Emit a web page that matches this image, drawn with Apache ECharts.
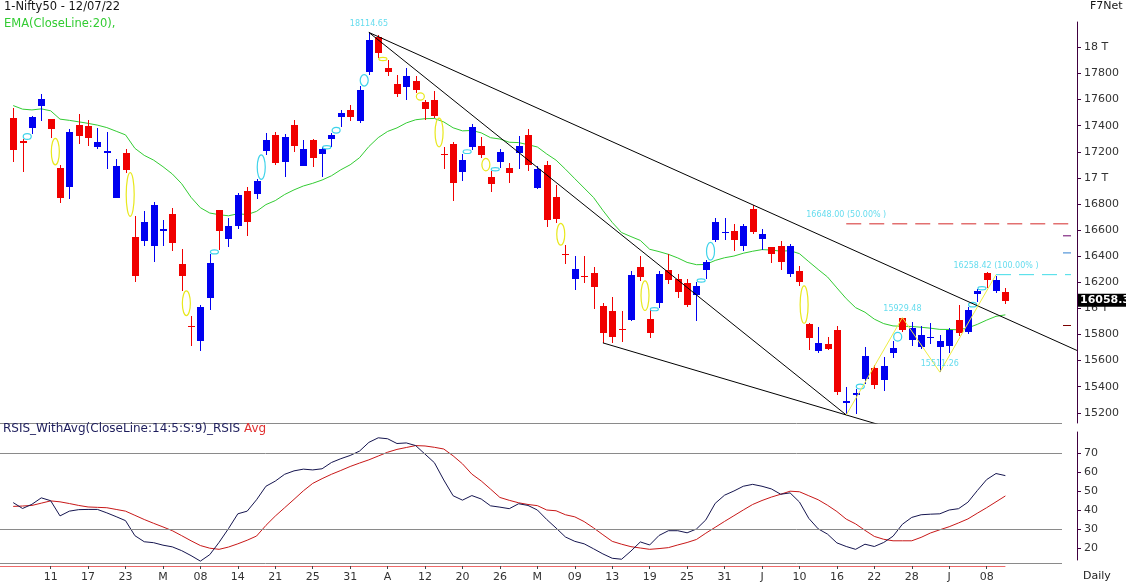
<!DOCTYPE html>
<html><head><meta charset="utf-8">
<script src="https://cdn.jsdelivr.net/npm/echarts@6/dist/echarts.min.js"></script>
<style>html,body{margin:0;padding:0;background:#fff;}#c{width:1126px;height:587px;}</style>
</head><body><div id="c"></div>
<script>
// ---------------- DATA ----------------
const dates = [
 '2022-02-07','2022-02-08','2022-02-09','2022-02-10','2022-02-11','2022-02-14','2022-02-15','2022-02-16','2022-02-17','2022-02-18',
 '2022-02-21','2022-02-22','2022-02-23','2022-02-24','2022-02-25','2022-02-28','2022-03-02','2022-03-03','2022-03-04','2022-03-07',
 '2022-03-08','2022-03-09','2022-03-10','2022-03-11','2022-03-14','2022-03-15','2022-03-16','2022-03-17','2022-03-21','2022-03-22',
 '2022-03-23','2022-03-24','2022-03-25','2022-03-28','2022-03-29','2022-03-30','2022-03-31','2022-04-01','2022-04-04','2022-04-05',
 '2022-04-06','2022-04-07','2022-04-08','2022-04-11','2022-04-12','2022-04-13','2022-04-18','2022-04-19','2022-04-20','2022-04-21',
 '2022-04-22','2022-04-25','2022-04-26','2022-04-27','2022-04-28','2022-04-29','2022-05-02','2022-05-04','2022-05-05','2022-05-06',
 '2022-05-09','2022-05-10','2022-05-11','2022-05-12','2022-05-13','2022-05-16','2022-05-17','2022-05-18','2022-05-19','2022-05-20',
 '2022-05-23','2022-05-24','2022-05-25','2022-05-26','2022-05-27','2022-05-30','2022-05-31','2022-06-01','2022-06-02','2022-06-03',
 '2022-06-06','2022-06-07','2022-06-08','2022-06-09','2022-06-10','2022-06-13','2022-06-14','2022-06-15','2022-06-16','2022-06-17',
 '2022-06-20','2022-06-21','2022-06-22','2022-06-23','2022-06-24','2022-06-27','2022-06-28','2022-06-29','2022-06-30','2022-07-01',
 '2022-07-04','2022-07-05','2022-07-06','2022-07-07','2022-07-08','2022-07-11','2022-07-12'];
const open = [
 17456.3,17279.85,17378.95,17553.1,17451,17076.55,16933.25,17408.45,17396.55,17236,
 17192.25,16847.95,17194.5,16548.9,16515.65,16481.6,16593.1,16723.2,16339.45,15867.95,
 15747.75,16078,16757.3,16528.8,16633.7,16900.65,16876.65,17202.9,17329.5,17120.4,
 17405.05,17094.95,17289,17181.85,17297.2,17468.15,17519.2,17436.9,17809.1,18080.6,
 17842.75,17723.3,17698.15,17740.9,17584.85,17599.9,17183.45,17258.95,17045.25,17234.6,
 17242.75,17009.05,17121.3,17073.35,17189.5,17329.25,16924.45,17096.6,16854.75,16415.55,
 16227.7,16248.9,16270.05,16021.1,15977,15845.1,15912.6,16318.15,15917.4,16043.8,
 16290.95,16225.55,16196.35,16105,16296.6,16527.9,16578.45,16594.4,16481.65,16761.65,
 16530.7,16469.6,16474.95,16263.85,16283.95,15877.55,15674.25,15729.25,15832.25,15272.65,
 15334.5,15455.95,15545.2,15451.55,15657.4,15926.2,15757.45,15701.7,15774.5,15703.7,
 15710.15,15909.15,15818.2,16113.75,16273.65,16136.15,16126.2];
const high = [
 17536.75,17294.9,17477.15,17639.5,17454.75,17099.8,17375,17490.6,17442.9,17380,
 17351.05,17148.5,17220.7,16705.25,16748.8,16815.1,16678.5,16768.95,16456,15944.6,
 16028.75,16418.05,16757.3,16694.4,16887.95,16927.75,16987.9,17344.6,17353.35,17334.4,
 17442.4,17291.75,17294.9,17235.1,17343.65,17522.5,17559.8,17703.7,18114.65,18095.45,
 17901,17787.5,17842.75,17779.05,17596,17663.65,17237.75,17275.65,17186.9,17414.7,
 17315.3,17054.3,17223.85,17110.7,17322.5,17377.65,17092.25,17132.85,16945.7,16484.2,
 16403.7,16404.55,16318.75,16041.95,16083.6,15977.95,16284.25,16399.8,15984.75,16283.05,
 16414.7,16262.8,16223.35,16204.45,16370.6,16695.5,16690.75,16649.2,16646.4,16793.85,
 16610.95,16469.6,16514.15,16492.8,16324.7,15886.15,15858,15783.65,15863.15,15400.4,
 15382.5,15707.25,15565.4,15628,15749.25,15927.45,15892.1,15861.6,15890,15793.95,
 15852.35,16025.75,16011.35,16150.5,16275.5,16248.55,16158.75];
const low = [
 17119.4,17043.65,17339.75,17433.5,17303,16809.65,16839.25,17257.7,17240.7,17219.2,
 17070.7,16843.8,17040.3,16203.25,16478.3,16356.25,16478.65,16442.95,16133.8,15711.45,
 15671.45,15990,16447.9,16470.9,16606.5,16555,16837.85,17175.75,17096.4,17006.3,
 17199.6,17091.15,17080,17003.9,17235.7,17387.2,17435.2,17422.7,17791.4,17921.55,
 17779.85,17623.7,17600.55,17650.95,17442.35,17457.4,17067.85,16824.7,16978.95,17215.5,
 17149.2,16888.75,17077.1,16958.45,17071.05,17053.25,16917.25,16623.95,16651.85,16340.9,
 16142.1,16197.3,15992.6,15735.75,15735.5,15739.65,15900.8,16211.2,15775.2,16003.85,
 16185.75,16078.6,16006.95,15903.7,16221.95,16506.15,16521.75,16438.85,16443.05,16567.9,
 16444.55,16347.1,16293.25,16243.85,16172.6,15684,15659.45,15678.9,15335.1,15183.4,
 15191.1,15419.85,15385.95,15367.5,15619.4,15815.5,15710.15,15687.8,15728.5,15511.05,
 15661.8,15785.45,15800.9,16045.95,16157.9,16115.5,16031.15];
const close = [
 17213.6,17266.75,17463.8,17605.85,17374.75,16842.8,17352.45,17322.2,17304.6,17276.3,
 17206.65,17092.2,17063.25,16247.95,16658.4,16793.9,16605.95,16498.05,16245.35,15863.15,
 16013.45,16345.35,16594.9,16630.45,16871.3,16663,16975.35,17287.05,17117.6,17315.5,
 17245.65,17222.75,17153,17222,17325.3,17498.25,17464.75,17670.45,18053.4,17957.4,
 17807.65,17639.55,17784.35,17674.95,17530.3,17475.65,17173.65,16958.65,17136.55,17392.6,
 17171.95,16953.95,17200.8,17038.4,17245.05,17102.55,17069.1,16677.6,16682.65,16411.25,
 16301.85,16240.05,16167.1,15808,15782.15,15842.3,16259.3,16240.3,15809.4,16266.15,
 16214.7,16125.15,16025.8,16170.15,16352.45,16661.4,16584.55,16522.75,16628,16584.3,
 16569.55,16416.35,16356.25,16478.1,16201.8,15774.4,15732.1,15692.15,15360.6,15293.5,
 15350.15,15638.8,15413.3,15556.65,15699.25,15832.05,15850.2,15799.1,15780.25,15752.05,
 15835.35,15810.85,15989.8,16132.9,16220.6,16216,16058.3];
const ema20 = [
 17554.2,17526.8,17520.8,17528.9,17514.2,17450.3,17441.0,17429.7,17417.8,17404.3,
 17385.5,17357.6,17329.6,17226.6,17172.5,17136.4,17085.9,17029.9,16955.2,16851.2,
 16771.4,16730.8,16717.9,16709.6,16725.0,16719.1,16743.5,16795.3,16826.0,16872.6,
 16908.1,16938.1,16958.6,16983.7,17016.2,17062.1,17100.4,17154.7,17240.3,17308.6,
 17356.1,17383.1,17421.3,17445.5,17453.6,17455.7,17428.8,17384.0,17360.4,17363.5,
 17345.3,17308.0,17297.8,17273.1,17270.4,17254.4,17236.8,17183.5,17135.8,17066.8,
 16993.9,16922.1,16850.2,16750.9,16658.6,16580.9,16550.3,16520.8,16453.0,16435.2,
 16414.2,16386.7,16352.3,16334.9,16336.6,16367.5,16388.2,16401.0,16422.6,16438.0,
 16450.5,16447.2,16438.5,16442.3,16419.4,16358.0,16298.4,16240.7,16156.9,16074.7,
 16005.7,15970.8,15917.7,15883.3,15865.8,15862.6,15861.4,15855.5,15848.3,15839.1,
 15838.7,15836.0,15850.6,15877.5,15910.2,15939.3,15950.6];
const rsi = [
 43.9,40.8,43.0,46.4,44.9,36.9,39.4,40.2,40.3,40.3,
 38.5,36.5,34.4,26.5,23.3,22.8,21.5,20.6,18.6,16.0,
 13.1,16.5,23.0,30.2,38.0,39.4,45.4,52.5,55.2,58.8,
 60.6,61.5,61.1,61.7,65.0,67.0,68.7,71.0,75.6,78.0,
 77.5,75.0,75.3,73.9,69.4,64.9,55.8,47.5,45.2,47.6,
 45.8,42.2,41.5,40.7,43.3,42.4,40.0,35.0,30.5,25.8,
 23.5,22.2,19.6,16.9,14.6,14.1,18.4,23.2,21.6,26.6,
 29.1,29.1,28.0,30.0,34.8,43.5,47.8,50.0,52.5,53.5,
 52.5,51.1,48.3,49.0,44.2,35.6,30.1,27.3,22.7,20.8,
 19.3,22.0,20.8,22.9,26.2,32.5,36.1,37.5,37.8,38.0,
 40.0,40.7,44.1,50.2,56.0,59.2,58.1];
const rsiAvg = [
 41.9,42.1,42.4,43.6,44.8,44.3,43.4,42.4,41.6,41.4,
 41.2,40.3,39.4,37.2,35.0,33.0,31.1,29.1,26.5,23.8,
 21.3,19.9,19.3,20.5,22.2,24.1,26.3,31.9,36.8,41.2,
 45.6,50.1,54.0,56.5,58.8,60.8,62.9,64.7,66.4,68.4,
 70.4,71.9,72.9,73.9,73.7,73.0,72.1,68.5,64.3,58.9,
 55.3,51.0,46.6,45.1,43.8,42.9,42.3,40.0,39.6,37.5,
 36.4,33.9,30.6,27.0,23.5,22.0,20.7,20.0,19.3,19.7,
 20.2,21.6,22.9,24.5,27.8,30.9,34.0,37.0,40.0,42.9,
 45.0,46.8,48.3,49.9,49.6,47.5,45.4,42.5,39.2,35.2,
 32.7,29.3,26.1,24.6,23.8,23.8,23.8,25.6,27.9,29.6,
 31.2,33.2,35.3,38.3,41.2,44.3,47.4];
const tickIndex = [4,8,12,16,20,24,28,32,36,40,44,48,52,56,60,64,68,72,76,80,84,88,92,96,100,104];
const tickLabels = ['11','17','23','M','08','14','21','25','31','A','12','20','26','M','09','13','19','25','31','J','10','16','22','28','J','08'];
const yTicksMain = [15200,15400,15600,15800,16000,16200,16400,16600,16800,17000,17200,17400,17600,17800,18000];
const yTicksRsi = [20,30,40,50,60,70];
const rsiBands = [70,30];
// trendline anchors: [index, price]
const trendAnchors = [
 [[38,18114.65],[79,16793.85]],
 [[38,18114.65],[89,15183.40]],
 [[63,15735.75],[89,15183.40]]];
const zigzag = [[89,15183.40],[95,15929.48],[99,15511.26],[105,16258.42]];
const pivotLabels = [[38,18114.65],[95,15929.48],[99,15511.26]];
const fibPcts = ['50.00','61.80','78.60','100.00','150.00'];
const fibValues = [16648.00,16556.07,16425.17,16258.42,15868.84];
const fibStartIdx = [89,null,null,105,null];

// ---------------- LAYOUT / STYLE ----------------
const FONT = 'DejaVu Sans';
const PX0 = 13.2, STEP = 9.36, PLOT_W = 1077;
const XMIN = -PX0/STEP, XMAX = XMIN + PLOT_W/STEP;
const XMAX_AXIS = XMIN + 1005/STEP;
const GRAY_END = (1062 - PX0)/STEP;
const FIB_END = (1071 - PX0)/STEP;
const FIB_TICK_START = (1063 - PX0)/STEP;
const YMIN_MAIN = 15121.8, YMAX_MAIN = 18194.6;
const YMIN_RSI = 12.11, YMAX_RSI = 85.79;
const UP = '#0000f0', DOWN = '#f00000';
const CYAN = '#3fd3ea', YELLOW = '#e8e81c';
const fibColors = ['#d42a2a','#6a006a','#2f7fd0','#40dce8','#7a0000'];

const gaps = [];
for (let i = 1; i < close.length; i++) {
  if (low[i-1] > high[i]) gaps.push([i-0.5, high[i], low[i-1], 0]);
  else if (high[i-1] < low[i]) gaps.push([i-0.5, high[i-1], low[i], 1]);
}

function renderCandle(params, api) {
  const i = api.value(0), o = api.value(1), h = api.value(2), l = api.value(3), c = api.value(4);
  const pO = api.coord([i,o]), pC = api.coord([i,c]), pH = api.coord([i,h]), pL = api.coord([i,l]);
  const x = Math.round(pO[0]);
  const color = c >= o ? UP : DOWN;
  let y0 = Math.round(Math.min(pO[1], pC[1])), y1 = Math.round(Math.max(pO[1], pC[1]));
  if (y1 - y0 < 1) y1 = y0 + 1;
  const yh = Math.round(pH[1]), yl = Math.round(pL[1]);
  return {type:'group', children:[
    {type:'rect', shape:{x:x, y:yh, width:1, height:Math.max(1, yl-yh)}, style:{fill:color}},
    {type:'rect', shape:{x:x-3, y:y0, width:7, height:y1-y0}, style:{fill:color}}
  ]};
}
function renderGap(params, api) {
  const x = api.value(0), lo = api.value(1), hi = api.value(2), kind = api.value(3);
  const a = api.coord([x, lo]), b = api.coord([x, hi]);
  const ry = Math.max(Math.abs(a[1]-b[1])/2, 1.6);
  return {type:'ellipse', shape:{cx:a[0], cy:(a[1]+b[1])/2, rx:4, ry:ry},
          style:{fill:'none', stroke: kind ? CYAN : YELLOW, lineWidth:1.2}};
}
function renderPriceBox(params, api) {
  const p = api.coord([api.value(0), api.value(1)]);
  return {type:'text', x: p[0] + 1, y: p[1] - 0.5, z2: 100,
    style:{text: String(api.value(1)), fill:'#fff', backgroundColor:'#000',
      font:'bold 11px "DejaVu Sans"', padding:[1,6,1,2], align:'left', verticalAlign:'middle'}};
}
function extend(anchor, endIdx) {
  const [a, b] = anchor;
  const slope = (b[1]-a[1])/(b[0]-a[0]);
  return [a, [endIdx, a[1] + slope*(endIdx - a[0])]];
}
const trendEnds = [XMAX, 89, 93];
const lastClose = close[close.length-1];

const series = [];
series.push({type:'line', name:'EMA', xAxisIndex:0, yAxisIndex:0, z:2, symbol:'none', silent:true,
  data: ema20.map((v,i)=>[i,v]), lineStyle:{color:'#33cc33', width:1}});
series.push({type:'custom', name:'candles', xAxisIndex:0, yAxisIndex:0, z:3, clip:true, silent:true,
  data: open.map((o,i)=>[i,o,high[i],low[i],close[i]]), encode:{x:0, y:[1,2,3,4]}, renderItem: renderCandle});
series.push({type:'custom', name:'gaps', xAxisIndex:0, yAxisIndex:0, z:4, clip:true, silent:true,
  data: gaps, encode:{x:0, y:[1,2]}, renderItem: renderGap});
trendAnchors.forEach((anc, k) => {
  series.push({type:'line', xAxisIndex:0, yAxisIndex:0, z:5, symbol:'none', silent:true, clip:true,
    data: extend(anc, trendEnds[k]), lineStyle:{color:'#000', width:1}});
});
series.push({type:'line', xAxisIndex:0, yAxisIndex:0, z:5, symbol:'none', silent:true,
  data: zigzag, lineStyle:{color:'#eeee40', width:1}});
fibValues.forEach((v, k) => {
  const from = fibStartIdx[k] !== null ? fibStartIdx[k] : FIB_TICK_START;
  series.push({type:'line', xAxisIndex:0, yAxisIndex:0, z:5, symbol:'none', silent:true,
    data: [[from, v],[FIB_END, v]],
    lineStyle:{color: fibColors[k], width:1, type: fibStartIdx[k] !== null ? [15,8] : 'solid'}});
});
series.push({type:'scatter', xAxisIndex:0, yAxisIndex:0, z:6, silent:true, symbolSize:1,
  itemStyle:{color:'rgba(0,0,0,0)'}, data: pivotLabels,
  label:{show:true, position:'top', distance:4, color:CYAN, fontSize:8, fontFamily:FONT,
    formatter: p => p.value[1].toFixed(2)}});
series.push({type:'scatter', xAxisIndex:0, yAxisIndex:0, z:6, silent:true, symbolSize:1,
  itemStyle:{color:'rgba(0,0,0,0)'},
  data: fibValues.map((v,k)=> fibStartIdx[k] !== null ? {value:[fibStartIdx[k], v], pct: fibPcts[k]} : null).filter(Boolean),
  label:{show:true, position:'top', distance:4, color:CYAN, fontSize:8, fontFamily:FONT,
    formatter: p => p.value[1].toFixed(2) + ' (' + p.data.pct + '% )'}});
series.push({type:'custom', name:'last', xAxisIndex:0, yAxisIndex:0, z:20, clip:false, silent:true,
  data: [[XMAX, lastClose]], encode:{x:0, y:1}, renderItem: renderPriceBox});
series.push({type:'line', name:'Avg', xAxisIndex:1, yAxisIndex:1, z:2, symbol:'none', silent:true,
  data: rsiAvg.map((v,i)=>[i,v]), lineStyle:{color:'#c81818', width:1},
  markLine:{symbol:'none', silent:true, label:{show:false}, lineStyle:{color:'#8a8a8a', width:1, type:'solid'},
    data: [YMAX_RSI, ...rsiBands, YMIN_RSI].map(v => [{coord:[XMIN, v]},{coord:[GRAY_END, v]}])}});
series.push({type:'line', name:'RSIS', xAxisIndex:1, yAxisIndex:1, z:3, symbol:'none', silent:true,
  data: rsi.map((v,i)=>[i,v]), lineStyle:{color:'#15154f', width:1}});

const txt = (size, color) => ({fontSize:size, fontWeight:'normal', color:color, fontFamily:FONT});
const option = {
  animation:false, backgroundColor:'#fff', textStyle:{fontFamily:FONT},
  title:[
    {text:'1-Nifty50 - 12/07/22', left:4, top:1, padding:0, textStyle:txt(11.5,'#151515')},
    {text:'EMA(CloseLine:20),', left:4, top:18, padding:0, textStyle:txt(11.5,'#33cc33')},
    {text:'F7Net', left:1090, top:1, padding:0, textStyle:txt(11,'#151515')},
    {text:'{a|RSIS_WithAvg(CloseLine:14:5:S:9)_RSIS} {b|Avg}', left:3, top:423, padding:0,
      textStyle:{fontSize:12, fontWeight:'normal', fontFamily:FONT, rich:{
        a:{color:'#1d1d5c', fontSize:12, fontWeight:'normal', fontFamily:FONT},
        b:{color:'#e03030', fontSize:12, fontWeight:'normal', fontFamily:FONT}}}},
    {text:'Daily', left:1083, top:571, padding:0, textStyle:txt(11,'#222')}
  ],
  grid:[
    {left:0, top:22, width:PLOT_W, height:401},
    {left:0, top:423, width:PLOT_W, height:140},
    {left:0, top:432, width:PLOT_W, height:128},
    {left:0, top:563, width:1005, height:3}
  ],
  xAxis:[
    {gridIndex:0, type:'value', min:XMIN, max:XMAX, show:false},
    {gridIndex:1, type:'value', min:XMIN, max:XMAX, show:false},
    {gridIndex:2, type:'value', min:XMIN, max:XMAX, show:false},
    {gridIndex:3, type:'value', min:XMIN, max:XMAX_AXIS, position:'bottom',
      axisLine:{show:true, onZero:false, lineStyle:{color:'#ee6a6a', width:1}},
      axisTick:{show:true, customValues:tickIndex, length:3, lineStyle:{color:'#444'}},
      axisLabel:{show:true, customValues:tickIndex, margin:6, color:'#333', fontSize:11, fontFamily:FONT,
        formatter: v => tickLabels[tickIndex.indexOf(Math.round(v))] || ''},
      splitLine:{show:false}}
  ],
  yAxis:[
    {gridIndex:0, type:'value', min:YMIN_MAIN, max:YMAX_MAIN, position:'right',
      axisLine:{show:true, onZero:false, lineStyle:{color:'#400040'}},
      axisTick:{show:true, customValues:yTicksMain, length:4, lineStyle:{color:'#400040'}},
      axisLabel:{show:true, customValues:yTicksMain, margin:7, color:'#333', fontSize:11, fontFamily:FONT,
        formatter: v => (v % 1000 === 0 ? (v/1000) + ' T' : String(v))},
      splitLine:{show:false}},
    {gridIndex:1, type:'value', min:YMIN_RSI, max:YMAX_RSI, position:'right',
      axisLine:{show:false, onZero:false},
      axisTick:{show:true, customValues:yTicksRsi, length:4, lineStyle:{color:'#400040'}},
      axisLabel:{show:true, customValues:yTicksRsi, margin:7, color:'#333', fontSize:11, fontFamily:FONT},
      splitLine:{show:false}},
    {gridIndex:2, type:'value', min:0, max:1, position:'right',
      axisLine:{show:true, onZero:false, lineStyle:{color:'#400040'}},
      axisTick:{show:false}, axisLabel:{show:false}, splitLine:{show:false}},
    {gridIndex:3, type:'value', min:0, max:1, show:false}
  ],
  series: series
};
const chart = echarts.init(document.getElementById('c'), null, {renderer:'canvas'});
chart.setOption(option);
</script>
</body></html>
